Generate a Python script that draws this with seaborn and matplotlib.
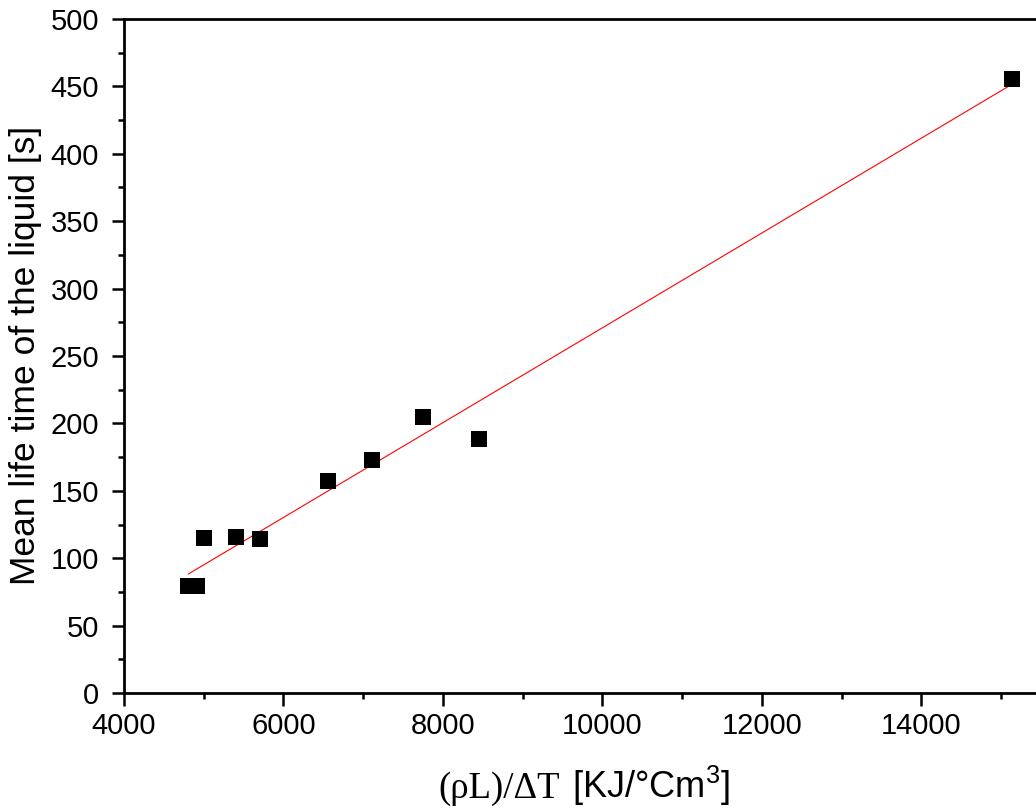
import numpy as np
import pandas as pd
import matplotlib
matplotlib.use("Agg")
import matplotlib.pyplot as plt
from matplotlib.ticker import MultipleLocator
import seaborn as sns

# ---- data ----
x_values = [4806, 4911, 5003, 5404, 5705, 6558, 7106, 7753, 8451, 15138]
y_values = [79.6, 79.6, 114.8, 116.0, 114.0, 157.5, 173.0, 205.0, 188.4, 455.5]
x_ticks = [4000, 6000, 8000, 10000, 12000, 14000]
y_ticks = [0, 50, 100, 150, 200, 250, 300, 350, 400, 450, 500]

sns.set_style("ticks")
plt.rcParams["font.family"] = ["Liberation Sans", "DejaVu Sans"]
plt.rcParams["text.color"] = "black"
plt.rcParams["axes.labelcolor"] = "black"
plt.rcParams["xtick.color"] = "black"
plt.rcParams["ytick.color"] = "black"
plt.rcParams["mathtext.fontset"] = "custom"
plt.rcParams["mathtext.rm"] = "Liberation Sans"
plt.rcParams["mathtext.default"] = "regular"

W, H = 1036, 811
fig = plt.figure(figsize=(W / 100, H / 100), dpi=100)
ax = fig.add_axes([124 / W, 118 / H, 917 / W, 674 / H])

df = pd.DataFrame({"x": x_values, "y": y_values})

# linear fit line
coef = np.polyfit(df["x"], df["y"], 1)
xf = np.array([df["x"].min(), df["x"].max()])
fit = pd.DataFrame({"x": xf, "y": np.polyval(coef, xf)})
sns.lineplot(data=fit, x="x", y="y", ax=ax, color="#ff0000", linewidth=0.8, zorder=2)

sns.scatterplot(data=df, x="x", y="y", ax=ax, marker="s", s=117, color="black",
                linewidth=0, zorder=3)

ax.set_xlim(4000, 15500)
ax.set_ylim(0, 500)
ax.set_xticks(x_ticks)
ax.set_yticks(y_ticks)
ax.xaxis.set_minor_locator(MultipleLocator(1000))
ax.yaxis.set_minor_locator(MultipleLocator(25))
ax.tick_params(axis="both", which="major", direction="out", length=9, width=1.8,
               labelsize=21, color="black", labelcolor="black")
ax.tick_params(axis="both", which="minor", direction="out", length=4.5, width=1.8,
               color="black")
ax.tick_params(axis="x", which="major", pad=5)
ax.tick_params(axis="y", which="major", pad=9)
for side in ["left", "bottom", "top"]:
    ax.spines[side].set_linewidth(2.0)
    ax.spines[side].set_color("black")
ax.spines["right"].set_visible(False)
ax.set_xlabel("")
ax.set_ylabel("")

# y label
fig.text(35 / W, 1 - 355 / H, "Mean life time of the liquid [s]", rotation=90,
         rotation_mode="anchor", ha="center", va="baseline", fontsize=25.5,
         family="Liberation Sans", color="black")
# x label: serif part + sans part
base_y = 1 - 798 / H
fig.text(560 / W, base_y, "(\u03c1L)/\u0394T", ha="right", va="baseline", fontsize=26.5,
         family="Liberation Serif", color="black")
fig.text(572 / W, base_y, "[KJ/\u00b0Cm$^{3}$]", ha="left", va="baseline", fontsize=26,
         family="Liberation Sans", color="black")

fig.savefig("out.png", dpi=100, facecolor="white")
